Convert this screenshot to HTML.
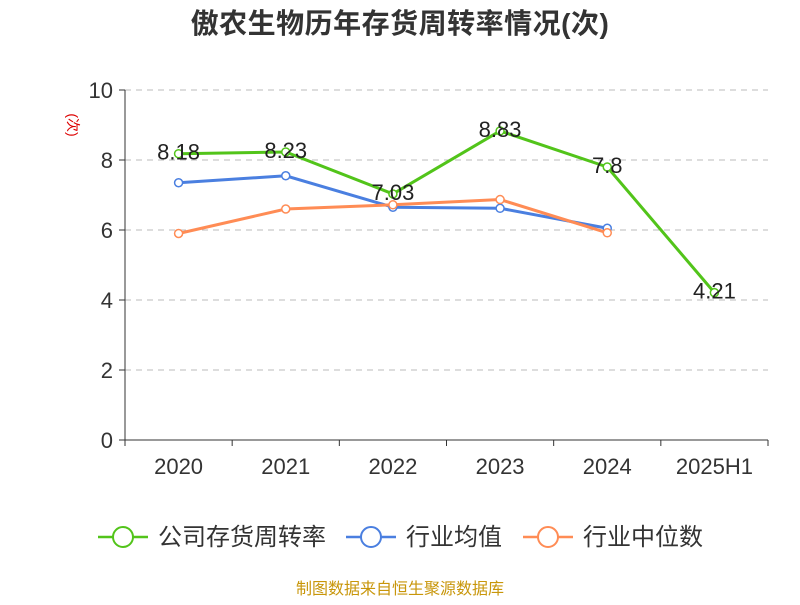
<!DOCTYPE html>
<html><head><meta charset="utf-8"><style>
body{margin:0;background:#fff;font-family:"Liberation Sans","Noto Sans CJK SC",sans-serif}
</style></head><body>
<svg id="c" width="800" height="600" xmlns="http://www.w3.org/2000/svg" style="font-family:'Liberation Sans','Noto Sans CJK SC',sans-serif">
<text x="400" y="33" text-anchor="middle" font-size="28" font-weight="bold" fill="#333" letter-spacing="0.5">傲农生物历年存货周转率情况(次)</text>
<text x="68" y="125" font-size="14" fill="#d00" transform="rotate(90 68 125)" text-anchor="middle">(次)</text>
<g id="grid"></g><g id="axes"></g><g id="series"></g>
<g>
<g><line x1="98" y1="537" x2="148" y2="537" stroke="#52c41a" stroke-width="2.5"/><circle cx="123" cy="537" r="10" fill="#fff" stroke="#52c41a" stroke-width="2"/><text x="158" y="545" font-size="24" fill="#333">公司存货周转率</text></g>
<g><line x1="346" y1="537" x2="396" y2="537" stroke="#4a7fe0" stroke-width="2.5"/><circle cx="371" cy="537" r="10" fill="#fff" stroke="#4a7fe0" stroke-width="2"/><text x="406" y="545" font-size="24" fill="#333">行业均值</text></g>
<g><line x1="523" y1="537" x2="573" y2="537" stroke="#ff8c55" stroke-width="2.5"/><circle cx="548" cy="537" r="10" fill="#fff" stroke="#ff8c55" stroke-width="2"/><text x="583" y="545" font-size="24" fill="#333">行业中位数</text></g>
</g>
<text x="400" y="594" text-anchor="middle" font-size="16" fill="#c8960a">制图数据来自恒生聚源数据库</text>
</svg>
<script>
const categories=["2020","2021","2022","2023","2024","2025H1"];
const companyValues=[8.18,8.23,7.03,8.83,7.8,4.21];
const meanValues=[7.35,7.55,6.65,6.62,6.05];
const medianValues=[5.9,6.6,6.72,6.87,5.92];
const yTicks=[0,2,4,6,8,10];
const NS="http://www.w3.org/2000/svg";
const L=125,R=768,T=90,B=440,bw=(R-L)/categories.length;
const x=i=>L+bw*(i+0.5), y=v=>B-(v/10)*(B-T);
function mk(t,a,p){const e=document.createElementNS(NS,t);for(const k in a)e.setAttribute(k,a[k]);p.appendChild(e);return e;}
const grid=document.getElementById('grid'),axes=document.getElementById('axes'),ser=document.getElementById('series');
yTicks.forEach(v=>{
 if(v>0){const g=mk('line',{x1:L,x2:R,y1:y(v),y2:y(v),stroke:'#bbb','stroke-dasharray':'6,5'},grid);}
 mk('line',{x1:L-6,x2:L,y1:y(v),y2:y(v),stroke:'#333'},axes);
 const t=mk('text',{x:L-12,y:y(v)+8,'text-anchor':'end','font-size':22,fill:'#333'},axes);t.textContent=v;
 
});
mk('line',{x1:L,x2:L,y1:T,y2:B,stroke:'#333'},axes);
mk('line',{x1:L,x2:R,y1:B,y2:B,stroke:'#333'},axes);
for(let i=0;i<=categories.length;i++)mk('line',{x1:L+bw*i,x2:L+bw*i,y1:B,y2:B+6,stroke:'#333'},axes);
categories.forEach((c,i)=>{const t=mk('text',{x:x(i),y:B+34,'text-anchor':'middle','font-size':22,fill:'#333'},axes);t.textContent=c;
 });
function draw(vals,col,name,labels){
 const g=mk('g',{},ser);
 mk('polyline',{points:vals.map((v,i)=>x(i)+','+y(v)).join(' '),fill:'none',stroke:col,'stroke-width':3},g);
 vals.forEach((v,i)=>{const c=mk('circle',{cx:x(i),cy:y(v),r:4,fill:'#fff',stroke:col,'stroke-width':1.5},g);
  
  if(labels){const t=mk('text',{x:x(i),y:y(v)+6,'text-anchor':'middle','font-size':22,fill:'#222'},g);t.textContent=v;
   }});
}
draw(meanValues,'#4a7fe0','industry-mean-series',false);
draw(medianValues,'#ff8c55','industry-median-series',false);
draw(companyValues,'#52c41a','company-series',true);
</script>
</body></html>
